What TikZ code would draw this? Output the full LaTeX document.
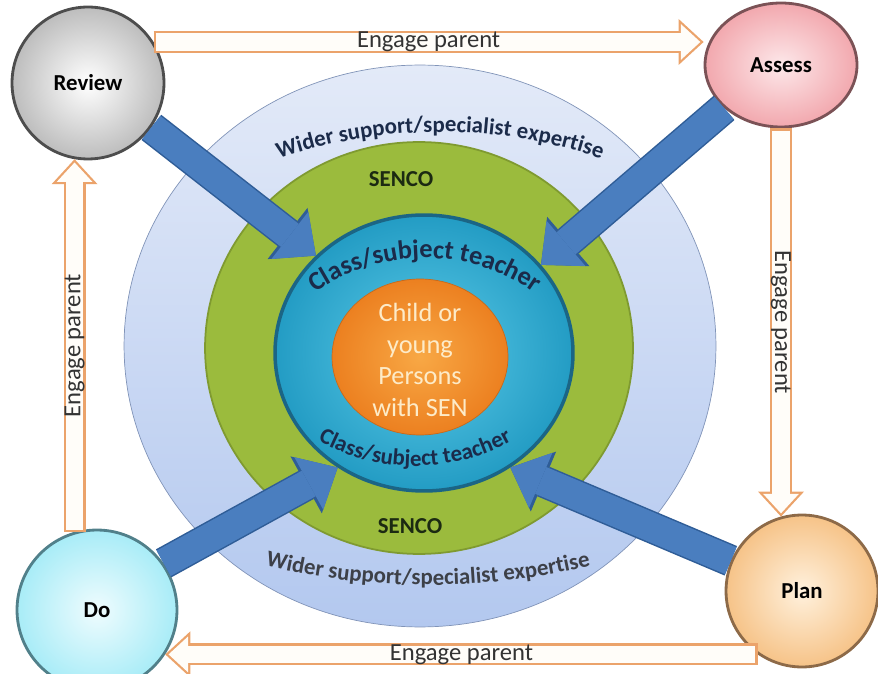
\documentclass[tikz,border=0pt]{standalone}
\usepackage{fontspec}
\setmainfont{Carlito}
\usetikzlibrary{arrows.meta,calc,positioning,shapes.geometric,decorations.text}

\definecolor{widertop}{HTML}{E3EAF8}
\definecolor{widerbottom}{HTML}{B3C8EF}
\definecolor{wideredge}{HTML}{8194B8}
\definecolor{sencogreen}{HTML}{9BBB3D}
\definecolor{sencoedge}{HTML}{7F9A30}
\definecolor{teachin}{HTML}{5CCBE8}
\definecolor{teachout}{HTML}{239CC4}
\definecolor{teachedge}{HTML}{1B6585}
\definecolor{childin}{HTML}{F8A845}
\definecolor{childout}{HTML}{EC8020}
\definecolor{childedge}{HTML}{C8691A}
\definecolor{childtext}{HTML}{FDEBC8}
\definecolor{navytext}{HTML}{1B2B4A}
\definecolor{greytext}{HTML}{3D4048}
\definecolor{sencotext}{HTML}{1C2A12}
\definecolor{pushblue}{HTML}{4A7EBF}
\definecolor{pushedge}{HTML}{2F5D97}
\definecolor{engorange}{HTML}{EBA36B}
\definecolor{engfill}{HTML}{FFFDF9}
\definecolor{engtext}{HTML}{333333}
\definecolor{reviewout}{HTML}{BDBDBD}
\definecolor{reviewedge}{HTML}{4D4D4D}
\definecolor{assessin}{HTML}{FDE8EA}
\definecolor{assessout}{HTML}{F2A8AE}
\definecolor{assessedge}{HTML}{7B5256}
\definecolor{doin}{HTML}{EFFCFE}
\definecolor{doout}{HTML}{A8ECF7}
\definecolor{doedge}{HTML}{51808A}
\definecolor{planin}{HTML}{FFF1DD}
\definecolor{planout}{HTML}{F6C388}
\definecolor{planedge}{HTML}{8D6A48}

\tikzset{
  ring/.style={ellipse, inner sep=0pt},
  stage/.style={circle, inner sep=0pt, line width=1.6pt, minimum size=3.04cm,
    font=\bfseries\fontsize{13}{15}\selectfont},
  push/.style={line width=0.58cm, draw=pushblue,
    -{Triangle[width=1.2cm,length=0.66cm,line width=0pt]},
    preaction={draw=pushedge, line width=0.64cm,
      -{Triangle[width=1.3cm,length=0.72cm,line width=0pt]}}},
  engage/.style={line width=0.44cm, draw=engorange,
    -{Triangle[width=0.92cm,length=0.5cm,line width=0pt]},
    postaction={draw=engfill, line width=0.35cm, shorten <=0.045cm, shorten >=0.066cm,
      -{Triangle[width=0.716cm,length=0.389cm,line width=0pt]}}},
  elabel/.style={inner sep=0pt, text=engtext, font=\fontsize{14}{16}\selectfont},
  arcbase/.style={decorate, decoration={text along path, text align=center}}
}

\begin{document}
\begin{tikzpicture}[x=0.02cm, y=0.02cm]
  \useasboundingbox (0,0) rectangle (878,673);
  \clip (0,0) rectangle (878,673);

  \node[ring, top color=widertop, bottom color=widerbottom, draw=wideredge,
    minimum width=11.84cm, minimum height=11.24cm] (wider) at (420,327) {};
  \node[ring, fill=sencogreen, draw=sencoedge, line width=1pt,
    minimum width=8.56cm, minimum height=8.24cm] (senco) at (419,325) {};
  \node[ring, inner color=teachin, outer color=teachout, draw=teachedge, line width=2pt,
    minimum width=5.96cm, minimum height=5.52cm] (teacher) at (424,320) {};
  \node[ring, inner color=childin, outer color=childout, draw=childedge,
    minimum width=3.52cm, minimum height=3.12cm] (child) at (420,316) {};
  \node[align=center, text=childtext, font=\fontsize{15}{18}\selectfont]
    (childlabel) at (420,313) {Child or\\young\\Persons\\with SEN};

  \path[arcbase, decoration={text color=navytext,
    text={|\bfseries\fontsize{13}{15}\selectfont|Wider support/specialist expertise}}]
    (440,41) ++(114:500) arc[start angle=114, end angle=66, radius=500];
  \path[arcbase, decoration={text color=greytext,
    text={|\bfseries\fontsize{13}{15}\selectfont|Wider support/specialist expertise}}]
    (428,788) ++(254:700) arc[start angle=254, end angle=286, radius=700];
  \path[arcbase, decoration={text color=navytext,
    text={|\bfseries\fontsize{15}{17}\selectfont|Class/subject teacher}}]
    (425,225) ++(140:190) arc[start angle=140, end angle=40, radius=190];
  \path[arcbase, decoration={text color=navytext,
    text={|\bfseries\fontsize{13}{15}\selectfont|Class/subject teacher}}]
    (415,407) ++(228:200) arc[start angle=228, end angle=312, radius=200];
  \node[text=sencotext, font=\bfseries\fontsize{13}{15}\selectfont] (sencotop) at (401,494) {SENCO};
  \node[text=sencotext, font=\bfseries\fontsize{13}{15}\selectfont] (sencobottom) at (410,147) {SENCO};

  \node[stage, inner color=white, outer color=reviewout, draw=reviewedge] (review) at (88,590) {Review};
  \node[stage, ellipse, minimum width=3.04cm, minimum height=2.48cm,
    inner color=assessin, outer color=assessout, draw=assessedge] (assess) at (781,608) {Assess};
  \node[stage, minimum size=3.2cm, inner color=doin, outer color=doout, draw=doedge] (do) at (97,63) {Do};
  \node[stage, inner color=planin, outer color=planout, draw=planedge] (plan) at (802,82) {Plan};

  \draw[push] (review.325) -- (teacher.138);
  \draw[push] (assess.217) -- (teacher.37);
  \draw[push] (do.35) -- (teacher.233);
  \draw[push] (plan.157) -- (teacher.307);

  \draw[engage] (review.32) -- (review.32 -| assess.west) node[midway, elabel]{Engage parent};
  \draw[engage] (assess.south) -- (assess.south |- plan.106) node[midway, elabel, rotate=-90]{Engage parent};
  \draw[engage] (plan.235) -- (plan.235 -| do.327.5) node[midway, elabel]{Engage parent};
  \draw[engage] (do.106) -- (do.106 |- review.260) node[midway, elabel, rotate=90]{Engage parent};
\end{tikzpicture}
\end{document}
